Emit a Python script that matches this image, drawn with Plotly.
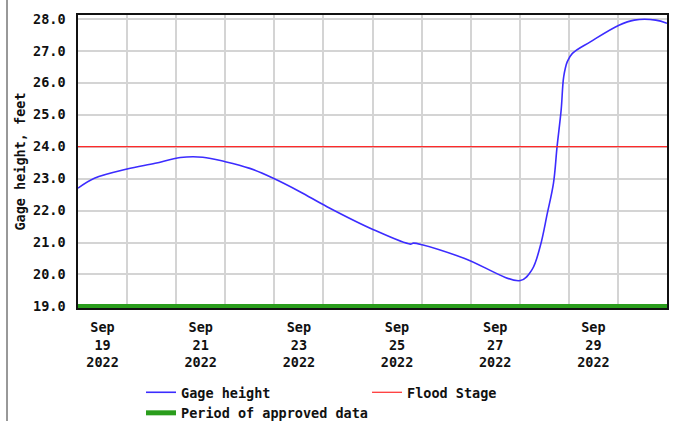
import plotly.graph_objects as go

# ---- data ----
times = [
    "2022-09-19 00:00", "2022-09-19 08:00", "2022-09-20 00:00", "2022-09-20 13:45",
    "2022-09-21 02:00", "2022-09-21 13:00", "2022-09-22 00:00", "2022-09-22 12:00",
    "2022-09-22 23:30", "2022-09-23 12:30", "2022-09-24 01:45", "2022-09-25 00:30",
    "2022-09-25 18:30", "2022-09-25 20:00", "2022-09-26 00:15", "2022-09-26 20:45",
    "2022-09-28 00:15", "2022-09-28 06:00", "2022-09-28 10:00", "2022-09-28 13:30",
    "2022-09-28 16:30", "2022-09-28 18:15", "2022-09-28 20:15", "2022-09-28 21:30",
    "2022-09-28 23:15", "2022-09-29 01:45", "2022-09-29 10:30", "2022-09-30 00:30",
    "2022-09-30 08:00", "2022-09-30 18:30", "2022-10-01 00:00",
]
gage_height = [
    22.70, 23.01, 23.30, 23.48,
    23.66, 23.67, 23.53, 23.32,
    23.01, 22.59, 22.12, 21.40,
    20.95, 20.98, 20.93, 20.51,
    19.81, 20.15, 20.88, 21.92,
    22.86, 24.00, 25.15, 26.19,
    26.66, 26.92, 27.28, 27.80,
    27.96, 27.96, 27.86,
]
flood_stage = 24.0
approved_level = 19.0
period_start = "2022-09-19 00:00"
period_end = "2022-10-01 00:00"

x_label_positions = ["2022-09-19 12:00", "2022-09-21 12:00", "2022-09-23 12:00",
                     "2022-09-25 12:00", "2022-09-27 12:00", "2022-09-29 12:00"]
x_label_text = ["Sep<br>19<br>2022", "Sep<br>21<br>2022", "Sep<br>23<br>2022",
                "Sep<br>25<br>2022", "Sep<br>27<br>2022", "Sep<br>29<br>2022"]
y_ticks = [19, 20, 21, 22, 23, 24, 25, 26, 27, 28]

FONT = dict(family="DejaVu Sans Mono", size=13.5, color="#111111", weight="bold")
GRID = "#d4d4d4"
ML, MR, MT, MB = 78, 7, 15, 113
PW, PH = 674 - ML - MR, 421 - MT - MB

fig = go.Figure()
fig.add_trace(go.Scatter(
    x=times, y=gage_height, mode="lines", name="Gage height",
    line=dict(color="#3c2cff", width=1.6), line_shape="spline",
))
fig.add_trace(go.Scatter(
    x=[period_start, period_end], y=[flood_stage, flood_stage], mode="lines",
    name="Flood Stage", line=dict(color="#ff2a2a", width=1.2),
))
fig.add_trace(go.Scatter(
    x=[period_start, period_end], y=[approved_level, approved_level], mode="lines",
    name="Period of approved data", line=dict(color="#2a9d1c", width=5),
    cliponaxis=False,
))

fig.update_layout(
    width=674, height=421,
    margin=dict(l=ML, r=MR, t=MT, b=MB, autoexpand=False),
    paper_bgcolor="white", plot_bgcolor="white",
    font=FONT,
    showlegend=True,
    legend=dict(
        orientation="h", x=0.107, xanchor="left",
        yref="container", y=1 - 377 / 421, yanchor="top",
        entrywidth=181, entrywidthmode="pixels", tracegroupgap=0,
        font=FONT, bgcolor="rgba(0,0,0,0)",
    ),
    xaxis=dict(
        type="date", range=[period_start, period_end], automargin=False,
        tickmode="array", tickvals=x_label_positions, ticktext=x_label_text,
        showgrid=False, ticks="", ticklabelstandoff=6,
        showline=True, linecolor="#111111", linewidth=1.5, mirror=True,
        minor=dict(dtick=86400000, tick0="2022-09-19", showgrid=True,
                   gridcolor=GRID, gridwidth=1.5, ticks=""),
        zeroline=False,
    ),
    yaxis=dict(
        range=[18.95, 28.12], tickmode="array", tickvals=y_ticks, tickformat=".1f",
        automargin=False,
        showgrid=True, gridcolor=GRID, gridwidth=1.5, ticks="", ticklabelstandoff=8,
        showline=True, linecolor="#111111", linewidth=1.5, mirror=True,
        zeroline=False,
        title=dict(text="Gage height, feet", font=FONT, standoff=4),
    ),
    shapes=[dict(type="line", xref="paper", yref="paper",
                 x0=(7 - ML) / PW, x1=(7 - ML) / PW, y0=-MB / PH, y1=1 + MT / PH,
                 line=dict(color="#333333", width=1))],
)

fig.write_html(
    "out.html",
    config={"displayModeBar": False},
    post_script="document.body.style.margin='0';document.body.style.padding='0';",
)
